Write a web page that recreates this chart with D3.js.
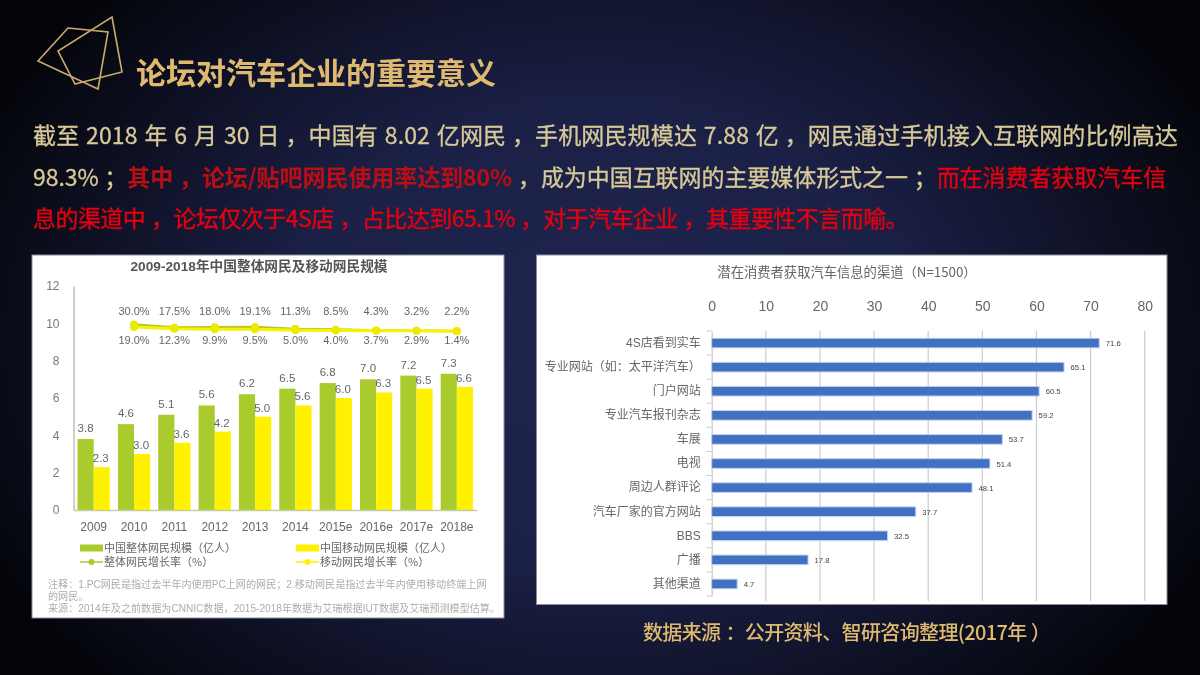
<!DOCTYPE html>
<html>
<head>
<meta charset="utf-8">
<script src="https://cdn.jsdelivr.net/npm/d3@7"></script>
<style>
  html, body { margin: 0; padding: 0; background: #000; }
  svg { display: block; filter: blur(0.45px); }
  text { font-family: "Liberation Sans", "Noto Sans CJK SC", sans-serif; }
  .cjk text, text.cjk { font-family: "Noto Sans CJK SC", sans-serif; }
</style>
</head>
<body>
<svg id="slide" width="1200" height="675"></svg>
<script>
const heading = "论坛对汽车企业的重要意义";
const bodyLines = [
  [["截至 2018 年 6 月 30 日，中国有 8.02 亿网民，手机网民规模达 7.88 亿，网民通过手机接入互联网的比例高达", "plain"]],
  [["98.3%；", "plain"], ["其中，论坛/贴吧网民使用率达到80%", "strong"], ["，成为中国互联网的主要媒体形式之一；", "plain"], ["而在消费者获取汽车信", "red"]],
  [["息的渠道中，论坛仅次于4S店，占比达到65.1%，对于汽车企业，其重要性不言而喻。", "red"]]
];
const bodyLineEnds = [1178, 1166, 908];
const sourceNote = "数据来源：公开资料、智研咨询整理(2017年）";

const years = ["2009", "2010", "2011", "2012", "2013", "2014", "2015e", "2016e", "2017e", "2018e"];
const totalUsers = [3.8, 4.6, 5.1, 5.6, 6.2, 6.5, 6.8, 7.0, 7.2, 7.3];
const mobileUsers = [2.3, 3.0, 3.6, 4.2, 5.0, 5.6, 6.0, 6.3, 6.5, 6.6];
const growthYears = years.slice(1);
const totalGrowth = [30.0, 17.5, 18.0, 19.1, 11.3, 8.5, 4.3, 3.2, 2.2];
const mobileGrowth = [19.0, 12.3, 9.9, 9.5, 5.0, 4.0, 3.7, 2.9, 1.4];
const yTicks = [0, 2, 4, 6, 8, 10, 12];

const leftTitle = "2009-2018年中国整体网民及移动网民规模";
const leftLegend = ["中国整体网民规模（亿人）", "中国移动网民规模（亿人）", "整体网民增长率（%）", "移动网民增长率（%）"];
const leftNotes = [
  "注释：1.PC网民是指过去半年内使用PC上网的网民；2.移动网民是指过去半年内使用移动终端上网",
  "的网民。",
  "来源：2014年及之前数据为CNNIC数据，2015-2018年数据为艾瑞根据IUT数据及艾瑞预测模型估算。"
];

const rightTitle = "潜在消费者获取汽车信息的渠道（N=1500）";
const channels = ["4S店看到实车", "专业网站（如：太平洋汽车）", "门户网站", "专业汽车报刊杂志", "车展", "电视", "周边人群评论", "汽车厂家的官方网站", "BBS", "广播", "其他渠道"];
const channelShare = [71.6, 65.1, 60.5, 59.2, 53.7, 51.4, 48.1, 37.7, 32.5, 17.8, 4.7];
const shareTicks = [0, 10, 20, 30, 40, 50, 60, 70, 80];

const GOLD = "#dfb96f", TAN = "#d8c998", GREEN = "#a9cb2e", YELLOW = "#fff200";

// the reference font centres its fullwidth punctuation, so push those glyphs right a little
const punctShift = { "，": 0.25, "；": 0.25, "：": 0.25, "）": 0.2 };
function addSpans(textNode, str) {
  return str.split(/([，；：）])/).filter(s => s !== "").map(part =>
    textNode.append("tspan").attr("dx", (punctShift[part] || 0) + "em").text(part));
}
// stretch or squeeze a line so it ends where it ends in the reference
function fitTo(t, endX) {
  const count = t.node().getNumberOfChars();
  const extra = endX - t.node().getEndPositionOfChar(count - 1).x;
  t.style("letter-spacing", (extra / count).toFixed(3) + "px");
}

const svg = d3.select("#slide");

// background
const defs = svg.append("defs");
const bg = defs.append("radialGradient").attr("id", "bg")
  .attr("cx", "50%").attr("cy", "50%").attr("r", "58%")
  .attr("gradientTransform", "translate(0.5 0.5) scale(1 1.3) translate(-0.5 -0.5)");
bg.append("stop").attr("offset", "0%").attr("stop-color", "#20254f");
bg.append("stop").attr("offset", "45%").attr("stop-color", "#1b2046");
bg.append("stop").attr("offset", "100%").attr("stop-color", "#030408");
svg.append("rect").attr("width", 1200).attr("height", 675).attr("fill", "url(#bg)");

// heading icon
svg.selectAll(".icon").data([
  "68,28 108,32 98,89 38,61",
  "112,17 122,72 75,84 58,51"
]).join("polygon").attr("class", "icon").attr("points", d => d)
  .attr("fill", "none").attr("stroke", "#c9ab6d").attr("stroke-width", 1.6);

svg.append("text").attr("class", "cjk").attr("x", 136).attr("y", 84)
  .attr("font-size", 30).attr("font-weight", 700).attr("fill", GOLD).text(heading);

// body copy
const spanStyle = {
  plain: { fill: TAN, weight: 400, edge: 0.3 },
  strong: { fill: "#b90f14", weight: 700, edge: 0 },
  red: { fill: "#e8000f", weight: 400, edge: 0.3 }
};
const body = svg.append("g").attr("class", "cjk");
bodyLines.forEach((line, i) => {
  const t = body.append("text").attr("x", 33).attr("y", 144 + i * 41.5).attr("font-size", 23)
    .style("word-spacing", "1.5px");
  line.forEach(([txt, kind]) => {
    const st = spanStyle[kind];
    addSpans(t, txt).forEach(s => s.attr("fill", st.fill).attr("font-weight", st.weight)
      .attr("stroke", st.fill).attr("stroke-width", st.edge));
  });
  fitTo(t, bodyLineEnds[i]);
});

const srcText = svg.append("text").attr("class", "cjk").attr("x", 643).attr("y", 640)
  .attr("font-size", 20).attr("font-weight", 500).attr("fill", GOLD);
addSpans(srcText, sourceNote);
fitTo(srcText, 1050);

// panels
svg.append("rect").attr("x", 32).attr("y", 255).attr("width", 472).attr("height", 363)
  .attr("fill", "#fff").attr("stroke", "#8a8d99").attr("stroke-width", 1);
svg.append("rect").attr("x", 536.5).attr("y", 255).attr("width", 630.5).attr("height", 349.5)
  .attr("fill", "#fff").attr("stroke", "#8a8d99").attr("stroke-width", 1);

// ---- left chart
const left = svg.append("g");
const xBand = d3.scaleBand().domain(years).range([73.5, 477]).paddingInner(0.2).paddingOuter(0.1);
const xPair = d3.scaleBand().domain(["total", "mobile"]).range([0, xBand.bandwidth()]);
const yUsers = d3.scaleLinear().domain([0, 12]).range([510, 286]);
const yGrowth = d3.scaleLinear().domain([0, 30]).range([331.5, 324.5]);
const center = d => xBand(d) + xBand.bandwidth() / 2;

left.append("text").attr("x", 259).attr("y", 271).attr("text-anchor", "middle")
  .attr("font-size", 13.7).attr("font-weight", 700).attr("fill", "#555").text(leftTitle);

const yAxis = left.append("g").attr("transform", "translate(73.5,0)")
  .call(d3.axisLeft(yUsers).tickValues(yTicks).tickSize(0).tickPadding(14));
yAxis.select(".domain").attr("stroke", "#cfcfcf").attr("stroke-width", 2);
yAxis.selectAll("text").attr("font-size", 12).attr("fill", "#777")
  .style("font-family", "'Liberation Sans'");

left.selectAll(".bar-total").data(totalUsers).join("rect").attr("class", "bar-total")
  .attr("x", (d, i) => xBand(years[i]) + xPair("total"))
  .attr("y", d => yUsers(d)).attr("width", xPair.bandwidth())
  .attr("height", d => yUsers(0) - yUsers(d)).attr("fill", GREEN);
left.selectAll(".bar-mobile").data(mobileUsers).join("rect").attr("class", "bar-mobile")
  .attr("x", (d, i) => xBand(years[i]) + xPair("mobile"))
  .attr("y", d => yUsers(d)).attr("width", xPair.bandwidth())
  .attr("height", d => yUsers(0) - yUsers(d)).attr("fill", YELLOW);

const xAxis = left.append("g").attr("transform", "translate(0,510)")
  .call(d3.axisBottom(xBand).tickSize(0).tickPadding(12));
xAxis.select(".domain").attr("stroke", "#c4cfa0").attr("stroke-width", 1.5);
xAxis.selectAll("text").attr("font-size", 12).attr("fill", "#666")
  .style("font-family", "'Liberation Sans'");

left.selectAll(".lab-total").data(totalUsers).join("text").attr("class", "lab-total")
  .attr("x", (d, i) => xBand(years[i]) + xPair("total") + xPair.bandwidth() / 2)
  .attr("y", d => yUsers(d) - 7).attr("text-anchor", "middle")
  .attr("font-size", 11.5).attr("fill", "#666").text(d => d.toFixed(1));
left.selectAll(".lab-mobile").data(mobileUsers).join("text").attr("class", "lab-mobile")
  .attr("x", (d, i) => xBand(years[i]) + xPair("mobile") + xPair.bandwidth() / 2 - 1)
  .attr("y", d => yUsers(d) - 5).attr("text-anchor", "middle")
  .attr("font-size", 11.5).attr("fill", "#666").text(d => d.toFixed(1));

// growth lines
const growthLine = d3.line().x((d, i) => center(growthYears[i])).y(d => yGrowth(d));
[[totalGrowth, "#b7c62a", 2.4], [mobileGrowth, "#f6f200", 3]].forEach(([vals, color, w]) => {
  left.append("path").attr("d", growthLine(vals)).attr("fill", "none")
    .attr("stroke", color).attr("stroke-width", w);
});
[totalGrowth, mobileGrowth].forEach(vals => {
  left.append("g").selectAll("circle").data(vals).join("circle")
    .attr("cx", (d, i) => center(growthYears[i])).attr("cy", d => yGrowth(d))
    .attr("r", 4).attr("fill", "#ecea00");
});
left.selectAll(".lab-g1").data(totalGrowth).join("text").attr("class", "lab-g1")
  .attr("x", (d, i) => center(growthYears[i])).attr("y", 315).attr("text-anchor", "middle")
  .attr("font-size", 11).attr("fill", "#666").text(d => d.toFixed(1) + "%");
left.selectAll(".lab-g2").data(mobileGrowth).join("text").attr("class", "lab-g2")
  .attr("x", (d, i) => center(growthYears[i])).attr("y", 344).attr("text-anchor", "middle")
  .attr("font-size", 11).attr("fill", "#666").text(d => d.toFixed(1) + "%");

// legend
const legendX = d3.scaleOrdinal().domain(leftLegend).range([80, 296, 80, 296]);
const legendY = d3.scaleOrdinal().domain(leftLegend).range([548, 548, 562, 562]);
const legendColor = d3.scaleOrdinal().domain(leftLegend).range([GREEN, YELLOW, GREEN, YELLOW]);
const legendRow = left.selectAll(".leg").data(leftLegend).join("g").attr("class", "leg cjk")
  .attr("transform", d => `translate(${legendX(d)},${legendY(d)})`);
legendRow.filter((d, i) => i < 2).append("rect").attr("y", -3.5).attr("width", 23).attr("height", 7)
  .attr("fill", d => legendColor(d));
legendRow.filter((d, i) => i >= 2).append("line").attr("x2", 23)
  .attr("stroke", d => legendColor(d)).attr("stroke-width", 1.5);
legendRow.filter((d, i) => i >= 2).append("circle").attr("cx", 11.5).attr("r", 3)
  .attr("fill", d => legendColor(d));
legendRow.append("text").attr("x", 24).attr("y", 4).attr("font-size", 11)
  .attr("fill", "#666").text(d => d);

left.append("g").selectAll("text").data(leftNotes).join("text")
  .attr("x", 48).attr("y", (d, i) => 588 + i * 12).attr("font-size", 10.1)
  .attr("fill", "#adadad").text(d => d);

// ---- right chart
const right = svg.append("g");
const xShare = d3.scaleLinear().domain([0, 80]).range([711.7, 1144.7]);
const yChan = d3.scaleBand().domain(channels).range([331, 596]).padding(0.6).paddingOuter(0.3);

right.append("text").attr("class", "cjk").attr("x", 847).attr("y", 277).attr("text-anchor", "middle")
  .attr("font-size", 13.3).attr("fill", "#666").text(rightTitle);

const topAxis = right.append("g").attr("transform", "translate(0,331)")
  .call(d3.axisTop(xShare).tickValues(shareTicks).tickSize(0).tickPadding(20));
topAxis.select(".domain").remove();
topAxis.selectAll("text").attr("font-size", 14).attr("fill", "#666")
  .style("font-family", "'Liberation Sans'");

right.selectAll(".grid").data(shareTicks.slice(1)).join("line").attr("class", "grid")
  .attr("x1", d => xShare(d)).attr("x2", d => xShare(d))
  .attr("y1", 331).attr("y2", 601).attr("stroke", "#cbcbcb").attr("stroke-width", 1.2);

const yAxisR = right.append("g").attr("transform", "translate(711.7,0)");
yAxisR.call(d3.axisLeft(yChan).tickSize(0).tickPadding(11));
yAxisR.select(".domain").attr("stroke", "#c9c9c9").attr("stroke-width", 1.2);
yAxisR.selectAll("text").attr("font-size", 12).attr("fill", "#666");
yAxisR.selectAll(".sep").data(d3.range(channels.length + 1)).join("line").attr("class", "sep")
  .attr("x1", -5).attr("x2", 0)
  .attr("y1", i => 331 + i * (596 - 331) / channels.length)
  .attr("y2", i => 331 + i * (596 - 331) / channels.length)
  .attr("stroke", "#c9c9c9");

right.selectAll(".chan").data(channelShare).join("rect").attr("class", "chan")
  .attr("x", xShare(0))
  .attr("y", (d, i) => yChan(channels[i]))
  .attr("width", d => xShare(d) - xShare(0))
  .attr("height", yChan.bandwidth())
  .attr("fill", "#4270c2").attr("stroke", "#c3d3ec").attr("stroke-width", 1);

right.selectAll(".chan-lab").data(channelShare).join("text").attr("class", "chan-lab")
  .attr("x", d => xShare(d) + 6.5)
  .attr("y", (d, i) => yChan(channels[i]) + yChan.bandwidth() / 2 + 3)
  .attr("font-size", 7.7).attr("fill", "#444").text(d => d);
</script>
</body>
</html>
